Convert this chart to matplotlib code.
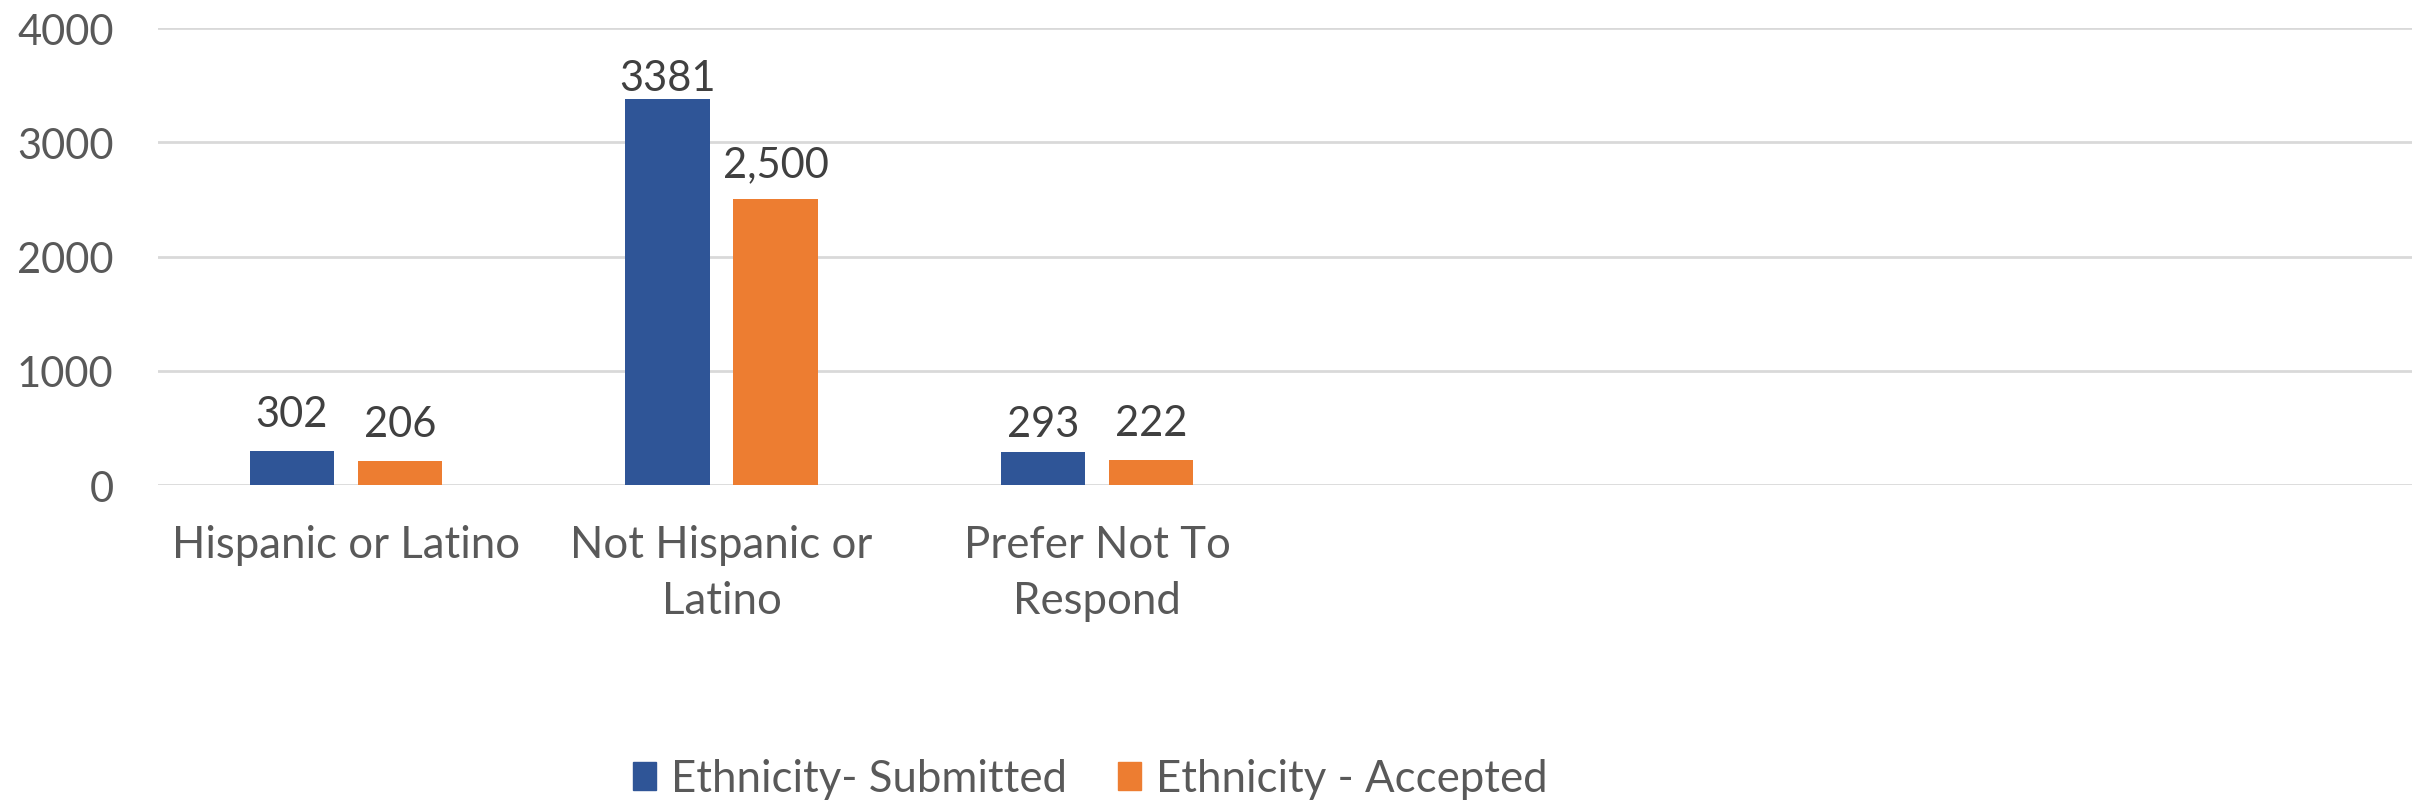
import matplotlib
matplotlib.use("Agg")
import matplotlib.pyplot as plt
from matplotlib.patches import Patch
import numpy as np

categories = ["Hispanic or Latino", "Not Hispanic or\nLatino", "Prefer Not To\nRespond", "", "", ""]
submitted = [302, 3381, 293]
accepted = [206, 2500, 222]
submitted_labels = ["302", "3381", "293"]
accepted_labels = ["206", "2,500", "222"]
series_names = ["Ethnicity- Submitted", "Ethnicity - Accepted"]
yticks = [0, 1000, 2000, 3000, 4000]

# label offsets above bar tops (points), as placed in the original
sub_label_gap = [18, 6, 11.5]
acc_label_gap = [18, 17, 18]

blue = "#2F5597"
orange = "#ED7D31"
txt = "#595959"
grid = "#D9D9D9"

plt.rcParams['font.family'] = ['Lato', 'DejaVu Sans']

fig = plt.figure(figsize=(24.12, 8.04), dpi=100)
ax = fig.add_axes([0.0655, 0.3955, 0.9345, 0.5684])

n = len(categories)
x = np.arange(n)
w = 0.224
off = 0.1437
nv = len(submitted)
b1 = ax.bar(x[:nv] - off, submitted, width=w, color=blue, zorder=3)
b2 = ax.bar(x[:nv] + off, accepted, width=w, color=orange, zorder=3)

for bars, labels, gaps in [(b1, submitted_labels, sub_label_gap), (b2, accepted_labels, acc_label_gap)]:
    for rect, lab, g in zip(bars, labels, gaps):
        ax.annotate(lab, (rect.get_x() + rect.get_width() / 2, rect.get_height()),
                    xytext=(0, g), textcoords="offset points", ha="center", va="baseline",
                    fontsize=30, color="#404040")

ax.set_xlim(-0.5, n - 0.5)
ax.set_ylim(0, 4000)
ax.set_yticks(yticks)
ax.set_yticklabels([str(t) for t in yticks], fontsize=30, color=txt)
ax.set_xticks(x)
ax.set_xticklabels(categories, fontsize=31.5, color=txt, linespacing=1.45)
ax.tick_params(axis='both', length=0)
ax.tick_params(axis='x', pad=28)
ax.tick_params(axis='y', pad=32)
ax.yaxis.grid(True, color=grid, linewidth=2, zorder=0)
ax.set_axisbelow(True)
for s in ax.spines.values():
    s.set_visible(False)

handles = [Patch(color=blue), Patch(color=orange)]
fig.legend(handles, series_names, loc="center", bbox_to_anchor=(0.452, 0.03), ncol=2,
           frameon=False, fontsize=31.5, labelcolor=txt, handlelength=0.53, handleheight=0.64,
           handletextpad=0.34, columnspacing=1.17, borderaxespad=0, borderpad=0)

fig.savefig("out.png", dpi=100, facecolor="white")
